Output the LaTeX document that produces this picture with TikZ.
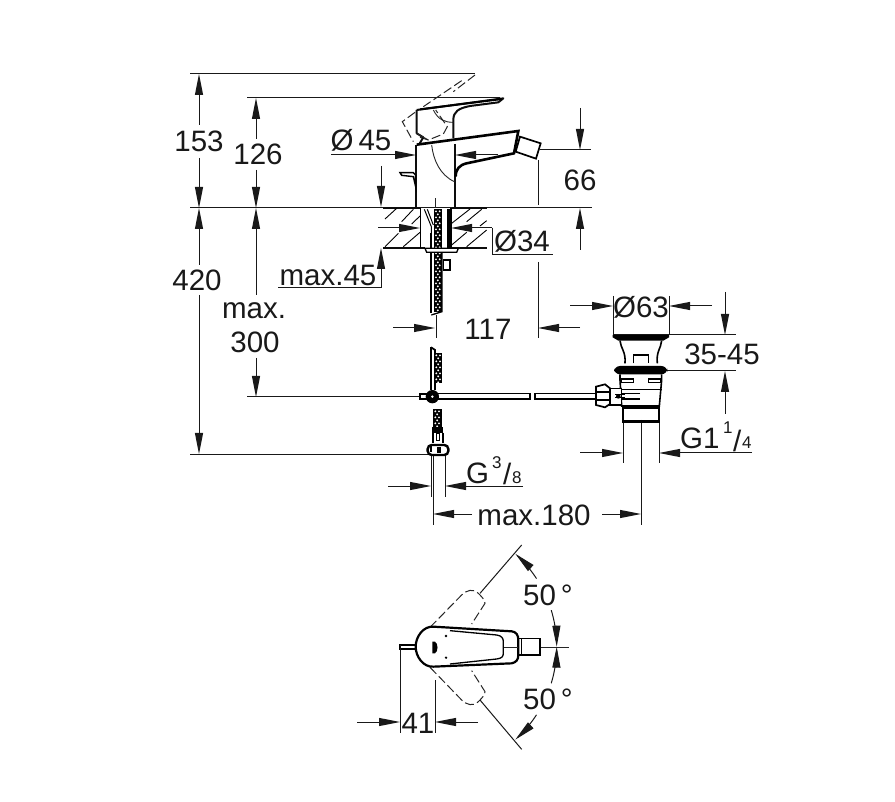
\documentclass[tikz,border=0pt]{standalone}
\usepackage{fontspec}
\setmainfont{Liberation Sans}
\usetikzlibrary{arrows.meta}
\tikzset{
  zoomed/.style n args={2}{shift={(#1,#2)},x=.33333pt,y=-.33333pt},
  dimline/.style={line width=1pt,color=black!90},
  tipend/.style={-{Triangle[length=21pt,width=8pt]}},
  part/.style={line width=2pt,color=black!95,line join=round},
  thin part/.style={line width=.9pt,color=black!85},
  ghost/.style={line width=1pt,color=black!85,dash pattern=on 9pt off 3.5pt},
  lab/.style={font=\fontsize{29.5}{32}\selectfont,inner sep=0pt,text=black!90},
  small lab/.style={font=\fontsize{17}{19}\selectfont,inner sep=0pt,text=black!90}
}
\newcommand{\hosepiece}[4]{%
  \fill[black] (#1,#3) rectangle (#2,#4);
  \pgfmathtruncatemacro\hoseN{(#4-#3-14)/18}
  \foreach \n in {0,...,\hoseN} {
    \fill[white] (#1+6,#3+6+18*\n) circle (3.2);
    \fill[white] (#1+17,#3+6+18*\n) circle (3.2);
    \fill[white] (#1+11.5,#3+15+18*\n) circle (3.2);
  }
}
\begin{document}
\begin{tikzpicture}[x=1pt,y=-1pt]
\useasboundingbox (0,0) rectangle (895,802);
\fill[white] (0,0) rectangle (895,802);

% ===== extension lines =====
\draw[dimline] (190,74) -- (475,74);
\draw[dimline] (247,98) -- (500,98);
\draw[dimline] (190,208) -- (592,208);
\draw[dimline] (247,397) -- (420,397);
\draw[dimline] (190,455) -- (431,455);
\draw[dimline] (540,150) -- (591,150);
\draw[dimline] (538,160) -- (538,205);
\draw[dimline] (538,262) -- (538,338);
\draw[dimline] (436,315) -- (436,338);
\draw[dimline] (433,455) -- (433,525);
\draw[dimline] (431,455) -- (431,497);
\draw[dimline] (445,455) -- (445,497);
\draw[dimline] (641,420) -- (641,525);
\draw[dimline] (613,296) -- (613,335);
\draw[dimline] (669,296) -- (669,335);
\draw[dimline] (613,335) -- (736,335);
\draw[dimline] (660,371) -- (736,371);
\draw[dimline] (623,422) -- (623,463);
\draw[dimline] (659,422) -- (659,463);

% ===== dimension arrows =====
\draw[dimline,tipend] (199,125) -- (199,74);
\draw[dimline,tipend] (199,158) -- (199,208);
\draw[dimline,tipend] (256,139) -- (256,98);
\draw[dimline,tipend] (256,170) -- (256,208);
\draw[dimline,tipend] (199,265) -- (199,208);
\draw[dimline,tipend] (199,295) -- (199,454);
\draw[dimline,tipend] (256,295) -- (256,208);
\draw[dimline,tipend] (256,358) -- (256,397);
\draw[dimline,tipend] (331,155) -- (416,155);
\draw[dimline,tipend] (498,155) -- (455,155);
\draw[dimline,tipend] (580,108) -- (580,150);
\draw[dimline,tipend] (580,250) -- (580,208);
\draw[dimline,tipend] (381,166) -- (381,207);
\draw[dimline,tipend] (381,288) -- (381,248);
\draw[dimline] (278,288) -- (381,288);
\draw[dimline,tipend] (378,228) -- (420,228);
\draw[dimline,tipend] (492,228) -- (451,228);
\draw[dimline] (492,228) -- (492,255) -- (553,255);
\draw[dimline,tipend] (393,328) -- (435,328);
\draw[dimline,tipend] (580,328) -- (538,328);
\draw[dimline,tipend] (388,486) -- (431,486);
\draw[dimline,tipend] (523,486) -- (445,486);
\draw[dimline,tipend] (472,514) -- (433,514);
\draw[dimline,tipend] (602,514) -- (641,514);
\draw[dimline,tipend] (570,306) -- (613,306);
\draw[dimline,tipend] (712,306) -- (669,306);
\draw[dimline,tipend] (725,292) -- (725,335);
\draw[dimline,tipend] (725,414) -- (725,371);
\draw[dimline,tipend] (580,453) -- (623,453);
\draw[dimline,tipend] (752,453) -- (659,453);

% ===== labels =====
\node[lab] (t153) at (199,141) {153};
\node[lab] (t126) at (258,154) {126};
\node[lab] (t45) at (361,140) {Ø\,45};
\node[lab] (t66) at (580,180) {66};
\node[lab] (t420) at (197,280) {420};
\node[lab] (tmax) at (254,311) {max.};
\node[lab] (t300) at (255,342) {300};
\node[lab] (tm45) at (328,275) {max.45};
\node[lab] (t34) at (522,241) {Ø34};
\node[lab] (t117) at (488,329) {117};
\node[lab] (t63) at (641,307) {Ø63};
\node[lab] (t3545) at (722,354) {35-45};
\node[lab,anchor=base west] (tg1) at (680,449) {G1};
\node[small lab,anchor=base west] (tg1a) at (723,434) {1};
\node[lab,anchor=base west] (tg1b) at (733,451) {/};
\node[small lab,anchor=base west] (tg1c) at (742,449) {4};
\node[lab,anchor=base west] (tg) at (466,483) {G};
\node[small lab,anchor=base west] (tg3) at (492,468) {3};
\node[lab,anchor=base west] (tgb) at (503,485) {/};
\node[small lab,anchor=base west] (tg8) at (512,483) {8};
\node[lab] (t180) at (534,515) {max.180};
\node[lab] (t50a) at (548,595) {50\,°};
\node[lab] (t50b) at (548,699) {50\,°};
\node[lab] (t41) at (418,723) {41};

% ===== mixer, elevation =====
\begin{scope}[zoomed={370}{60}]
  % dashed raised lever
  \draw[ghost] (315,45) -- (250,95);
  \draw[ghost] (275,62) -- (160,140);
  \draw[ghost] (135,157) -- (97,185) -- (130,245);
  \draw[ghost] (150,232) -- (175,240) -- (220,222) -- (232,200) -- (197,150);
  % lever
  \draw[part] (140,150) -- (400,115) -- (385,127) -- (300,138) .. controls (265,145) and (250,155) .. (250,180) -- (250,235);
  \draw[line width=2pt,black] (150,148) -- (395,117);
  \draw[part] (140,150) -- (140,220) -- (160,232) -- (148,252);
  \draw[thin part] (190,150) .. controls (205,180) and (225,187) .. (250,187);
  \draw[thin part] (140,220) -- (175,240);
  % body and spout
  \draw[part] (137,255) -- (137,443);
  \draw[part] (255,252) -- (255,443);
  \draw[line width=2.6pt,black] (140,254) -- (445,213) -- (432,280) -- (290,310) .. controls (268,315) and (257,328) .. (257,350);
  \draw[thin part] (185,255) .. controls (190,300) and (210,345) .. (253,365);
  % nozzle
  \draw[line width=1.7pt,black] (450,230) -- (512,250) -- (498,296) -- (437,275) -- cycle;
  % pop-up knob
  \draw[line width=1.4pt,black] (90,338) -- (130,338) -- (137,345) -- (137,380) -- (130,350) -- (95,346) -- cycle;
  \draw[thin part] (197,415) -- (197,443);
\end{scope}

% ===== counter section =====
\begin{scope}[zoomed={370}{200}]
  \draw[part] (40,25) -- (150,25);
  \draw[part] (245,25) -- (350,25);
  \draw[part] (40,143) -- (165,143);
  \draw[part] (245,143) -- (352,143);
  \draw[line width=1.1pt] (152,25) -- (152,143);
  \draw[line width=1.1pt] (243,25) -- (243,143);
  \foreach \a/\b/\c/\d in {45/57/80/25, 95/65/130/28, 125/72/150/48, 45/140/85/100, 100/140/150/97,
                           245/70/300/27, 290/65/335/28, 330/78/350/62, 245/135/290/97, 290/140/350/90}
    \draw[line width=.9pt] (\a,\b) -- (\c,\d);
  % tubes and hose
  \hosepiece{192}{216}{28}{335}
  \draw[line width=2.2pt,black] (184,100) -- (184,340);
  \draw[line width=1pt] (163,28) -- (184,80) -- (184,110);
  \draw[line width=1pt] (172,28) -- (190,75);
  \draw[line width=2.4pt] (236,28) -- (236,143);
  \draw[line width=1.3pt,fill=white] (165,145) -- (265,145) -- (260,157) -- (170,157) -- cycle;
  \draw[line width=1.5pt,fill=white] (220,180) rectangle (240,210);
  \draw[line width=1.3pt] (216,157) -- (216,335) -- (184,345);
\end{scope}

% ===== lower hose, tee, supply =====
\begin{scope}[zoomed={400}{340}]
  \draw[line width=1.5pt] (93,22) -- (93,150);
  \draw[line width=1.8pt] (93,22) -- (105,30) -- (105,150);
  \hosepiece{103}{127}{40}{130}
  % pipe
  \draw[line width=1.1pt,fill=white] (60,162) rectangle (85,177);
  \draw[line width=1.3pt,fill=white] (105,161) -- (390,161) -- (390,177) -- (105,177) -- cycle;
  \draw[line width=1.3pt] (720,161) -- (405,161) -- (405,177) -- (720,177);
  \fill[black] (97,170) circle (20);
  \fill[white] (97,170) circle (4);
  % hose piece
  \hosepiece{100}{127}{208}{262}
  \fill[black] (97,262) rectangle (130,278);
  \draw[line width=1.7pt] (100,278) -- (100,310);
  \draw[line width=1.7pt] (128,278) -- (128,310);
  \draw[line width=1pt] (108,282) rectangle (118,302);
  \draw[line width=2.4pt,fill=white,rounded corners=4] (83,315) rectangle (145,345);
  \fill[black] (110,320) rectangle (122,340);
  \draw[line width=2pt] (92,318) -- (92,335);
\end{scope}

% ===== waste set =====
\begin{scope}[zoomed={570}{280}]
  \fill[black] (128,165) -- (297,165) -- (297,172) -- (280,182) -- (145,182) -- (128,172) -- cycle;
  \draw[line width=1.6pt] (150,182) .. controls (152,205) and (168,215) .. (165,250);
  \draw[line width=1.6pt] (275,182) .. controls (273,205) and (258,215) .. (262,250);
  \draw[line width=1.4pt] (190,250) -- (190,225) -- (235,225) -- (235,250);
  \fill[black,rounded corners=6] (132,258) rectangle (292,283);
  \draw[line width=1.6pt] (150,283) -- (150,300) -- (155,378) -- (268,378) -- (275,300) -- (275,283);
  \draw[line width=1pt] (150,330) -- (275,330);
  \draw[line width=1.2pt] (155,297) rectangle (190,308);
  \draw[line width=1.2pt] (235,297) rectangle (272,308);
  \draw[line width=2.6pt] (155,378) -- (268,378);
  \draw[line width=1.7pt] (158,385) rectangle (268,425);
  \draw[line width=3pt] (158,424) -- (268,424);
  % union nut
  \draw[line width=1.4pt,fill=white] (120,325) -- (155,325) -- (155,375) -- (120,375) -- cycle;
  \draw[line width=1.7pt,fill=white] (78,320) -- (105,313) -- (120,325) -- (120,372) -- (105,382) -- (78,375) -- cycle;
  \draw[line width=1.7pt] (80,335) -- (118,335);
  \draw[line width=1.7pt] (80,360) -- (118,360);
  \draw[line width=1pt] (135,345) -- (165,345);
  \draw[line width=1pt] (135,352) -- (165,352);
  \fill[black] (145,349) circle (7);
  \draw[line width=1.3pt] (0,341) -- (78,341);
  \draw[line width=1.3pt] (0,357) -- (78,357);
\end{scope}

% ===== plan view =====
\begin{scope}[zoomed={350}{540}]
  \draw[thin part] (460,322) -- (658,322);
  % swing positions
  \draw[ghost] (240,262) -- (335,165) .. controls (350,150) and (370,145) .. (385,160) .. controls (395,170) and (405,180) .. (405,190) -- (365,252);
  \draw[ghost] (240,382) -- (335,480) .. controls (350,495) and (370,500) .. (385,485) .. controls (395,475) and (405,465) .. (405,455) -- (365,392);
  \draw[dimline] (390,160) -- (515,15);
  \draw[dimline] (390,480) -- (515,628);
  % nozzle
  \draw[line width=1.5pt,fill=white] (505,296) rectangle (570,345);
  \draw[line width=1.1pt] (515,296) -- (515,345);
  % knob
  \draw[line width=1.2pt,fill=white] (150,315) rectangle (200,327);
  % body
  \draw[line width=2.2pt,fill=white] (250,260) -- (485,274) .. controls (498,275) and (505,285) .. (505,300) -- (505,345) .. controls (505,360) and (498,367) .. (485,370) -- (250,380) .. controls (220,382) and (197,350) .. (197,320) .. controls (197,290) and (220,258) .. (250,260) -- cycle;
  \draw[line width=1.3pt] (300,272) -- (440,285) .. controls (455,287) and (460,295) .. (460,305) -- (460,340) .. controls (460,350) and (455,355) .. (440,357) -- (300,372);
  \draw[thin part] (462,322) -- (505,322);
  \fill[black] (247,305) -- (255,305) .. controls (265,310) and (265,335) .. (255,340) -- (247,340) -- cycle;
  \fill[black] (288,288) circle (4);
  \fill[black] (288,353) circle (4);
\end{scope}
\draw[dimline] (400,645) -- (400,733);
\draw[dimline] (435,680) -- (435,733);
\draw[dimline,tipend] (357,722) -- (400,722);
\draw[dimline,tipend] (478,722) -- (435,722);
% angle arcs about the pivot
\draw[dimline,tipend] plot[domain=33:48,samples=12] ({431.7+125*cos(\x)},{646.7-125*sin(\x)});
\draw[dimline,tipend] plot[domain=17:0,samples=12] ({431.7+125*cos(\x)},{646.7-125*sin(\x)});
\draw[dimline,tipend] plot[domain=-33:-48,samples=12] ({431.7+125*cos(\x)},{646.7-125*sin(\x)});
\draw[dimline,tipend] plot[domain=-17:0,samples=12] ({431.7+125*cos(\x)},{646.7-125*sin(\x)});
\end{tikzpicture}
\end{document}
